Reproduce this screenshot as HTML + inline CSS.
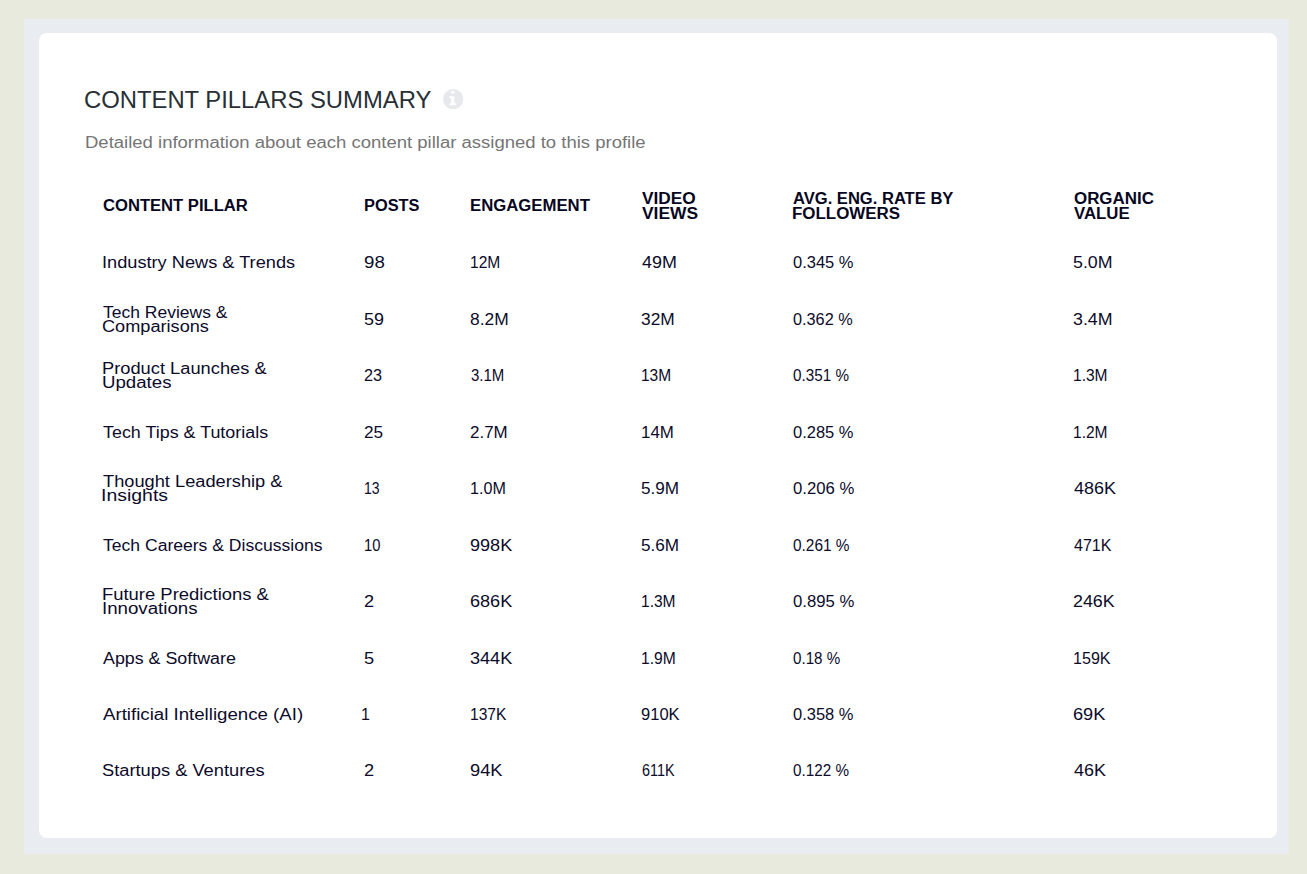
<!DOCTYPE html>
<html><head><meta charset="utf-8">
<style>
html,body{margin:0;padding:0;}
body{width:1307px;height:874px;background:#e8eade;position:relative;overflow:hidden;font-family:"Liberation Sans",sans-serif;}
.frame{position:absolute;left:24px;top:19px;width:1265px;height:835px;background:#e9ecf1;}
.card{position:absolute;left:39px;top:33px;width:1238px;height:805px;background:#fff;border-radius:8px;}
.title,.sub,.th,.td{position:absolute;white-space:nowrap;transform-origin:0 0;line-height:28px;}
.title{font-size:23px;color:#283035;}
.sub{font-size:16px;color:#757575;}
.th{font-weight:bold;font-size:16px;color:#07061f;}
.td{font-size:16px;color:#0c0b2a;}
.info{position:absolute;left:442.8px;top:89px;width:20.2px;height:20.2px;}
</style></head><body>
<div class="frame"></div>
<div class="card"></div>
<svg class="info" viewBox="0 0 20 20"><circle cx="10" cy="10" r="10" fill="#e6e8ec"/><rect x="8.0" y="2.0" width="3.4" height="2.5" fill="#fff"/><path d="M6.4 7.1H11.4V14.2H13.2V16.0H6.4V14.2H8.0V9.1H6.4Z" fill="#fff"/></svg>
<div class="title" style="left:83.96px;top:86px;transform:scaleX(1.0359)">CONTENT PILLARS SUMMARY</div>
<div class="sub" style="left:84.98px;top:129px;transform:scaleX(1.1565)">Detailed information about each content pillar assigned to this profile</div>
<div class="th" style="left:102.88px;top:192px;transform:scaleX(1.0374)">CONTENT PILLAR</div>
<div class="th" style="left:363.98px;top:192px;transform:scaleX(1.0228)">POSTS</div>
<div class="th" style="left:470.06px;top:192px;transform:scaleX(1.0456)">ENGAGEMENT</div>
<div class="th" style="left:642.00px;top:185px;transform:scaleX(1.0778)">VIDEO</div>
<div class="th" style="left:642.00px;top:200px;transform:scaleX(1.0865)">VIEWS</div>
<div class="th" style="left:793.00px;top:185px;transform:scaleX(1.0349)">AVG. ENG. RATE BY</div>
<div class="th" style="left:791.94px;top:200px;transform:scaleX(1.0575)">FOLLOWERS</div>
<div class="th" style="left:1074.34px;top:185px;transform:scaleX(1.0570)">ORGANIC</div>
<div class="th" style="left:1074.41px;top:200px;transform:scaleX(1.0493)">VALUE</div>
<div class="td" style="left:101.72px;top:249px;transform:scaleX(1.1369)">Industry News &amp; Trends</div>
<div class="td" style="left:363.83px;top:249px;transform:scaleX(1.1664)">98</div>
<div class="td" style="left:470.14px;top:249px;transform:scaleX(0.9731)">12M</div>
<div class="td" style="left:642.00px;top:249px;transform:scaleX(1.1205)">49M</div>
<div class="td" style="left:793.00px;top:249px;transform:scaleX(1.0306)">0.345 %</div>
<div class="td" style="left:1073.30px;top:249px;transform:scaleX(1.1121)">5.0M</div>
<div class="td" style="left:102.87px;top:299px;transform:scaleX(1.0930)">Tech Reviews &amp;</div>
<div class="td" style="left:101.86px;top:313px;transform:scaleX(1.1342)">Comparisons</div>
<div class="td" style="left:363.88px;top:306px;transform:scaleX(1.1201)">59</div>
<div class="td" style="left:470.04px;top:306px;transform:scaleX(1.0882)">8.2M</div>
<div class="td" style="left:640.92px;top:306px;transform:scaleX(1.0829)">32M</div>
<div class="td" style="left:793.00px;top:306px;transform:scaleX(1.0169)">0.362 %</div>
<div class="td" style="left:1073.30px;top:306px;transform:scaleX(1.1121)">3.4M</div>
<div class="td" style="left:101.72px;top:355px;transform:scaleX(1.1427)">Product Launches &amp;</div>
<div class="td" style="left:101.68px;top:369px;transform:scaleX(1.1657)">Updates</div>
<div class="td" style="left:363.99px;top:362px;transform:scaleX(1.0131)">23</div>
<div class="td" style="left:471.13px;top:362px;transform:scaleX(0.9360)">3.1M</div>
<div class="td" style="left:641.03px;top:362px;transform:scaleX(0.9664)">13M</div>
<div class="td" style="left:793.00px;top:362px;transform:scaleX(0.9528)">0.351 %</div>
<div class="td" style="left:1073.42px;top:362px;transform:scaleX(0.9706)">1.3M</div>
<div class="td" style="left:102.87px;top:419px;transform:scaleX(1.1184)">Tech Tips &amp; Tutorials</div>
<div class="td" style="left:363.93px;top:419px;transform:scaleX(1.0732)">25</div>
<div class="td" style="left:470.06px;top:419px;transform:scaleX(1.0588)">2.7M</div>
<div class="td" style="left:640.94px;top:419px;transform:scaleX(1.0559)">14M</div>
<div class="td" style="left:793.00px;top:419px;transform:scaleX(1.0307)">0.285 %</div>
<div class="td" style="left:1073.42px;top:419px;transform:scaleX(0.9706)">1.2M</div>
<div class="td" style="left:102.86px;top:468px;transform:scaleX(1.1401)">Thought Leadership &amp;</div>
<div class="td" style="left:100.62px;top:482px;transform:scaleX(1.2152)">Insights</div>
<div class="td" style="left:364.13px;top:475px;transform:scaleX(0.8729)">13</div>
<div class="td" style="left:470.09px;top:475px;transform:scaleX(1.0066)">1.0M</div>
<div class="td" style="left:640.93px;top:475px;transform:scaleX(1.0711)">5.9M</div>
<div class="td" style="left:793.00px;top:475px;transform:scaleX(1.0441)">0.206 %</div>
<div class="td" style="left:1074.43px;top:475px;transform:scaleX(1.1218)">486K</div>
<div class="td" style="left:102.87px;top:532px;transform:scaleX(1.0970)">Tech Careers &amp; Discussions</div>
<div class="td" style="left:364.08px;top:532px;transform:scaleX(0.9199)">10</div>
<div class="td" style="left:470.00px;top:532px;transform:scaleX(1.1305)">998K</div>
<div class="td" style="left:640.93px;top:532px;transform:scaleX(1.0711)">5.6M</div>
<div class="td" style="left:793.00px;top:532px;transform:scaleX(0.9628)">0.261 %</div>
<div class="td" style="left:1074.41px;top:532px;transform:scaleX(1.0007)">471K</div>
<div class="td" style="left:101.70px;top:581px;transform:scaleX(1.1514)">Future Predictions &amp;</div>
<div class="td" style="left:101.67px;top:595px;transform:scaleX(1.1677)">Innovations</div>
<div class="td" style="left:363.86px;top:588px;transform:scaleX(1.1368)">2</div>
<div class="td" style="left:470.00px;top:588px;transform:scaleX(1.1305)">686K</div>
<div class="td" style="left:641.03px;top:588px;transform:scaleX(0.9706)">1.3M</div>
<div class="td" style="left:793.00px;top:588px;transform:scaleX(1.0441)">0.895 %</div>
<div class="td" style="left:1073.31px;top:588px;transform:scaleX(1.1140)">246K</div>
<div class="td" style="left:102.87px;top:645px;transform:scaleX(1.1143)">Apps &amp; Software</div>
<div class="td" style="left:363.86px;top:645px;transform:scaleX(1.1368)">5</div>
<div class="td" style="left:470.00px;top:645px;transform:scaleX(1.1308)">344K</div>
<div class="td" style="left:641.02px;top:645px;transform:scaleX(0.9768)">1.9M</div>
<div class="td" style="left:793.00px;top:645px;transform:scaleX(0.9483)">0.18 %</div>
<div class="td" style="left:1073.41px;top:645px;transform:scaleX(1.0066)">159K</div>
<div class="td" style="left:102.85px;top:701px;transform:scaleX(1.1661)">Artificial Intelligence (AI)</div>
<div class="td" style="left:361.02px;top:701px;transform:scaleX(1.0000)">1</div>
<div class="td" style="left:470.10px;top:701px;transform:scaleX(0.9736)">137K</div>
<div class="td" style="left:640.97px;top:701px;transform:scaleX(1.0336)">910K</div>
<div class="td" style="left:793.00px;top:701px;transform:scaleX(1.0307)">0.358 %</div>
<div class="td" style="left:1073.30px;top:701px;transform:scaleX(1.1372)">69K</div>
<div class="td" style="left:101.86px;top:757px;transform:scaleX(1.1423)">Startups &amp; Ventures</div>
<div class="td" style="left:363.86px;top:757px;transform:scaleX(1.1368)">2</div>
<div class="td" style="left:469.98px;top:757px;transform:scaleX(1.1440)">94K</div>
<div class="td" style="left:642.07px;top:757px;transform:scaleX(0.8982)">611K</div>
<div class="td" style="left:793.00px;top:757px;transform:scaleX(0.9528)">0.122 %</div>
<div class="td" style="left:1074.42px;top:757px;transform:scaleX(1.1184)">46K</div>
</body></html>
